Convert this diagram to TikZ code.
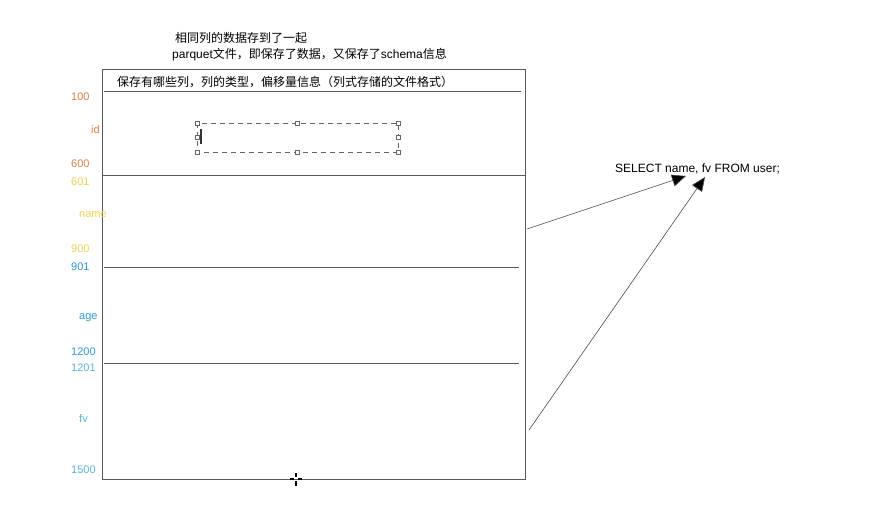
\documentclass[tikz,border=0pt]{standalone}
\usepackage{fontspec}
\setmainfont{Liberation Sans}
\newfontfamily\cjk{Noto Sans CJK SC}
\usetikzlibrary{arrows.meta,calc}
\definecolor{idcol}{HTML}{D9824A}
\definecolor{namecol}{HTML}{EED35A}
\definecolor{agecol}{HTML}{2F9AD2}
\definecolor{fvcol}{HTML}{5DB3D8}
\tikzset{
  lbl/.style={inner sep=0pt,font=\fontsize{11}{13}\selectfont},
  txt/.style={inner sep=0pt,font=\fontsize{12}{14}\selectfont},
  grid/.style={draw=black!65,line width=0.8pt},
  handle/.style={draw=black!60,fill=white,line width=0.5pt,minimum size=4pt,inner sep=0pt},
  query/.style={-{Triangle[length=14pt,width=12pt,fill=black]},draw=black!70,line width=0.6pt}
}
\begin{document}
\begin{tikzpicture}[x=1pt,y=-1pt]
  \useasboundingbox[fill=white] (0,0) rectangle (881,523);
  % outline of the file
  \draw[grid] (102,69) rectangle (525,479);
  \draw[grid] (104,91) -- (521,91)
              (102,175) -- (525,175)
              (104,267) -- (519,267)
              (104,363) -- (519,363);
  % texts on top
  \node[txt,anchor=west] (t1) at (175,38) {\cjk 相同列的数据存到了一起};
  \node[txt,anchor=west] (t2) at (172,55) {parquet\cjk 文件，即保存了数据，又保存了\normalfont schema\cjk 信息};
  \node[txt,anchor=west] (meta) at (117,82) {\cjk 保存有哪些列，列的类型，偏移量信息（列式存储的文件格式）};
  % column offsets
  \node[lbl,text=idcol,anchor=west] (id1) at (71,97) {100};
  \node[lbl,text=idcol,anchor=west] (id) at (91,130) {id};
  \node[lbl,text=idcol,anchor=west] (id2) at (71,164) {600};
  \node[lbl,text=namecol,anchor=west] (n1) at (71,182) {601};
  \node[lbl,text=namecol,anchor=west] (name) at (79,215) {name};
  \node[lbl,text=namecol,anchor=west] (n2) at (71,249) {900};
  \node[lbl,text=agecol,anchor=west] (a1) at (71,267) {901};
  \node[lbl,text=agecol,anchor=west] (age) at (79,318) {age};
  \node[lbl,text=agecol,anchor=west] (a2) at (71,352) {1200};
  \node[lbl,text=fvcol,anchor=west] (f1) at (71,368) {1201};
  \node[lbl,text=fvcol,anchor=west] (fv) at (79,419) {fv};
  \node[lbl,text=fvcol,anchor=west] (f2) at (71,470) {1500};
  % selected text box
  \draw[black!60,dash pattern=on 5pt off 4pt,line width=0.6pt] (197,123) rectangle (398,152);
  \foreach \hx in {197,297,398}
    \foreach \hy in {123,152}
      \node[handle] at (\hx,\hy) {};
  \node[handle] at (197,137) {};
  \node[handle] at (398,137) {};
  \draw[black!80,line width=1.2pt] (201,129) -- (201,144);
  % mouse cursor
  \draw[black,line width=1.2pt] (290,479) -- (294,479) (298,479) -- (302,479)
        (296,473) -- (296,477) (296,481) -- (296,486);
  % query
  \node[txt,anchor=west] (sel) at (615,169) {SELECT name, fv FROM user;};
  \coordinate (nameout) at (527,229);
  \coordinate (fvout) at (529,430);
  \coordinate (nametip) at (686,176);
  \coordinate (fvtip) at (705,177);
  \draw[query] (nameout) -- (nametip);
  \draw[query] (fvout) -- (fvtip);
\end{tikzpicture}
\end{document}
